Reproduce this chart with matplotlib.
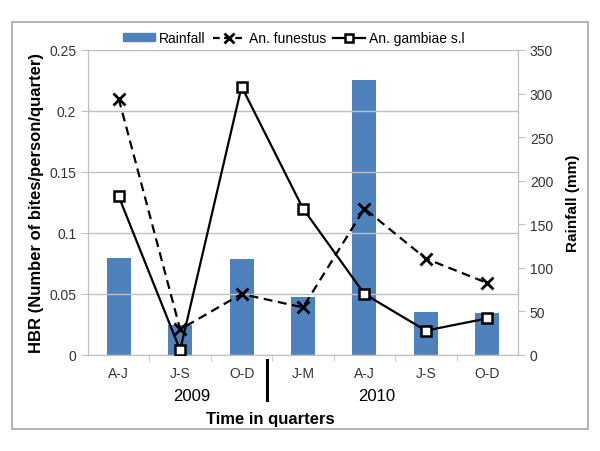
import matplotlib.pyplot as plt
from matplotlib.lines import Line2D
from matplotlib.patches import Patch, Rectangle

plt.rcParams['font.family'] = ['Liberation Sans', 'DejaVu Sans']

# data
quarters = ['A-J', 'J-S', 'O-D', 'J-M', 'A-J', 'J-S', 'O-D']
rainfall = [111, 34, 110, 67, 316, 49, 48]
funestus = [0.21, 0.021, 0.05, 0.039, 0.12, 0.079, 0.059]
gambiae = [0.13, 0.004, 0.22, 0.12, 0.05, 0.02, 0.03]
years = ['2009', '2010']

grid_col = '#bfbfbf'
bar_col = '#4f81bd'
x = list(range(len(quarters)))

fig = plt.figure(figsize=(6, 4.52), dpi=100)
ax = fig.add_axes([0.1467, 0.2124, 0.7166, 0.6748])
ax2 = ax.twinx()

# bars on the rainfall axis, drawn behind the lines
ax2.bar(x, rainfall, width=0.39, color=bar_col, zorder=1)
ax2.set_ylim(0, 350)
ax2.set_yticks(range(0, 351, 50))
ax.set_zorder(ax2.get_zorder() + 1)
ax.patch.set_visible(False)

ax.plot(x, funestus, color='black', ls='--', lw=1.6, marker='x', ms=8,
        mew=2, dashes=(4, 2.5), zorder=3)
ax.plot(x, gambiae, color='black', ls='-', lw=1.6, marker='s', ms=7,
        mew=1.8, mfc='white', zorder=3)

ax.set_xlim(-0.5, 6.5)
ax.set_ylim(0, 0.25)
ax.set_yticks([0, 0.05, 0.1, 0.15, 0.2, 0.25])
ax.set_yticklabels(['0', '0.05', '0.1', '0.15', '0.2', '0.25'])
ax.yaxis.grid(True, color=grid_col, lw=1)
ax.set_axisbelow(True)
ax.set_xticks(x)
ax.set_xticklabels(quarters)
ax.set_xticks([i + 0.5 for i in x[:-1]], minor=True)
ax.tick_params(axis='x', which='major', length=0, pad=8, labelsize=10, colors='#333333')
ax.tick_params(axis='x', which='minor', length=4, color=grid_col)
ax.tick_params(axis='y', length=5, color=grid_col, labelsize=10, labelcolor='#333333')
ax2.tick_params(axis='y', length=5, color=grid_col, labelsize=10, labelcolor='#333333')

for a in (ax, ax2):
    a.spines['top'].set_visible(False)
    for s in ('left', 'right', 'bottom'):
        a.spines[s].set_color(grid_col)

ax.set_ylabel('HBR (Number of bites/person/quarter)', fontsize=12,
              fontweight='bold', labelpad=4)
ax2.set_ylabel('Rainfall (mm)', fontsize=11, fontweight='bold', labelpad=9)

# year labels, separator and axis title under the quarters
tr = ax.get_xaxis_transform()
ax.text(1.19, -0.134, years[0], transform=tr, ha='center', va='center', fontsize=12)
ax.text(4.2, -0.134, years[1], transform=tr, ha='center', va='center', fontsize=12)
ax.plot([2.41, 2.41], [-0.016, -0.148], color='black', lw=2.2,
        transform=tr, clip_on=False)
ax.text(2.46, -0.207, 'Time in quarters', transform=tr,
        ha='center', va='center', fontsize=12, fontweight='bold')

handles = [Patch(color=bar_col),
           Line2D([], [], color='black', ls='--', lw=1.6, marker='x', ms=7,
                  mew=2, dashes=(3, 2)),
           Line2D([], [], color='black', ls='-', lw=1.6, marker='s', ms=6,
                  mew=1.8, mfc='white')]
fig.legend(handles, ['Rainfall', 'An. funestus', 'An. gambiae s.l'],
           loc='center', bbox_to_anchor=(0.49, 0.913), ncol=3, frameon=False,
           fontsize=10, handlelength=2.3, handletextpad=0.3, columnspacing=0.5,
           handleheight=0.5)

# outer chart border
fig.patches.append(Rectangle((12 / 600, 1 - 430 / 452), 576 / 600, 407 / 452,
                             transform=fig.transFigure, fill=False,
                             edgecolor='#a6a6a6', lw=1.2))

fig.savefig('out.png', dpi=100)
